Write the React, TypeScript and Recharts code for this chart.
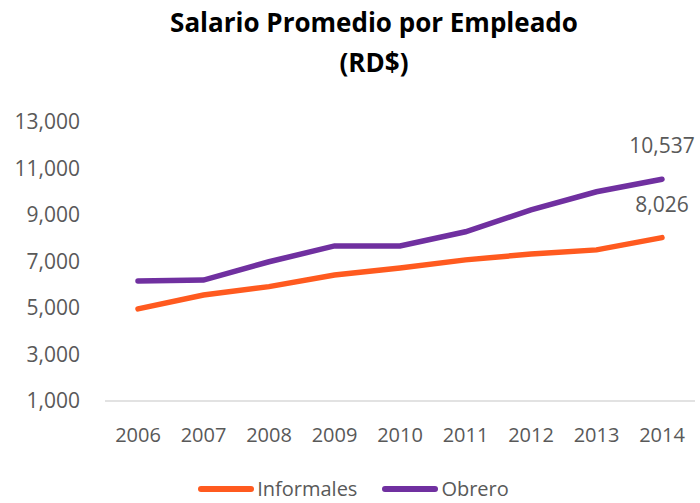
import React from "react";
import { LineChart, Line, XAxis, YAxis, Legend, LabelList } from "recharts";

const years = ["2006", "2007", "2008", "2009", "2010", "2011", "2012", "2013", "2014"];
const informales = [4960, 5560, 5920, 6420, 6720, 7070, 7320, 7500, 8026];
const obrero = [6160, 6200, 6990, 7670, 7670, 8280, 9220, 10000, 10537];
const yTicks = [1000, 3000, 5000, 7000, 9000, 11000, 13000];

const data = years.map((y, i) => ({ year: y, Informales: informales[i], Obrero: obrero[i] }));

const ORANGE = "#FF5A1F";
const PURPLE = "#7030A0";
const GRAY = "#595959";
const FONT = "'Open Sans', 'Noto Sans', sans-serif";

const fmt = (v: number) => v.toLocaleString("en-US");

const lastLabel = (props: any) => {
  const { x, y, index, value } = props;
  if (index !== years.length - 1) return null;
  return (
    <text x={x} y={y - 34} textAnchor="middle" dominantBaseline="central" fill={GRAY} fontSize={21} fontFamily={FONT}>
      {fmt(value)}
    </text>
  );
};

const LegendContent = () => (
  <div
    style={{
      height: 30,
      display: "flex",
      justifyContent: "center",
      alignItems: "center",
      fontFamily: FONT,
      fontSize: 20,
      lineHeight: "20px",
      color: GRAY,
      transform: "translate(6px, 1px)",
    }}
  >
    {[
      { name: "Informales", color: ORANGE },
      { name: "Obrero", color: PURPLE },
    ].map((s, i) => (
      <div key={s.name} style={{ display: "flex", alignItems: "center", marginLeft: i ? 25 : 0 }}>
        <div style={{ width: 56, height: 6, borderRadius: 3, background: s.color, marginRight: 3 }} />
        <span style={{ lineHeight: "20px" }}>{s.name}</span>
      </div>
    ))}
  </div>
);

export default function App() {
  return (
    <div style={{ position: "absolute", left: 0, top: 0, width: 700, height: 503, background: "#fff" }}>
      <div
        style={{
          position: "absolute",
          left: 124,
          top: 2,
          width: 500,
          textAlign: "center",
          fontFamily: FONT,
          fontWeight: 700,
          fontSize: 26,
          lineHeight: "40px",
          color: "#000",
          zIndex: 2,
        }}
      >
        Salario Promedio por Empleado
        <br />
        (RD$)
      </div>
      <LineChart width={700} height={503} data={data} margin={{ top: 122, right: 5, left: 0, bottom: 0 }}>
        <XAxis
          dataKey="year"
          padding={{ left: 33, right: 33 }}
          height={72}
          tickLine={false}
          axisLine={{ stroke: "#D9D9D9", strokeWidth: 1.5 }}
          tick={{ fill: GRAY, fontSize: 20, fontFamily: FONT }}
          tickMargin={21}
          interval={0}
        />
        <YAxis
          width={105}
          domain={[1000, 13000]}
          ticks={yTicks}
          tickFormatter={fmt}
          axisLine={false}
          tickLine={false}
          tickMargin={19}
          tick={{ fill: GRAY, fontSize: 21, fontFamily: FONT }}
          interval={0}
        />
        <Legend verticalAlign="bottom" height={30} content={<LegendContent />} />
        <Line
          type="linear"
          dataKey="Informales"
          stroke={ORANGE}
          strokeWidth={5.5}
          strokeLinecap="round"
          dot={false}
          isAnimationActive={false}
        >
          <LabelList dataKey="Informales" content={lastLabel} />
        </Line>
        <Line
          type="linear"
          dataKey="Obrero"
          stroke={PURPLE}
          strokeWidth={5.5}
          strokeLinecap="round"
          dot={false}
          isAnimationActive={false}
        >
          <LabelList dataKey="Obrero" content={lastLabel} />
        </Line>
      </LineChart>
    </div>
  );
}
